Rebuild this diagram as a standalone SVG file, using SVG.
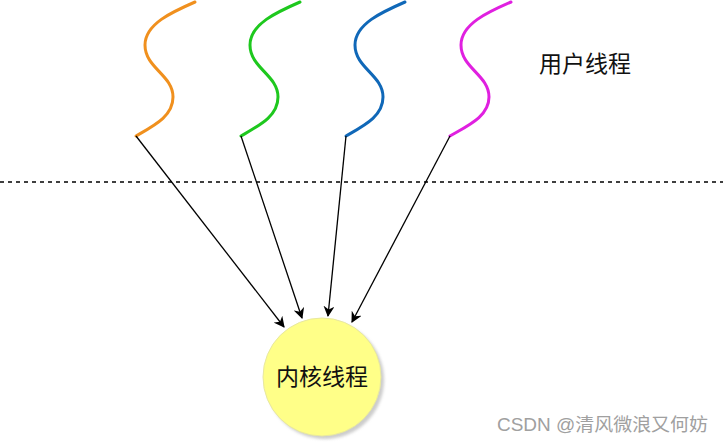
<svg xmlns="http://www.w3.org/2000/svg" width="723" height="443" viewBox="0 0 723 443">
  <defs>
    <marker id="arr" viewBox="0 0 10 10" refX="9" refY="5" markerWidth="11" markerHeight="11" markerUnits="userSpaceOnUse" orient="auto">
      <path d="M0,0 L10,5 L0,10 L3,5 Z" fill="#000"/>
    </marker>
    <filter id="sh" x="-20%" y="-20%" width="140%" height="140%">
      <feGaussianBlur stdDeviation="1.5"/>
    </filter>
  </defs>
  <style>
    .wave{fill:none;stroke-width:3;stroke-linecap:round}
    .conn{fill:none;stroke:#000;stroke-width:1.3}
    .lbl{font-family:"Noto Sans CJK SC","Liberation Sans",sans-serif;fill:#111}
  </style>
  <rect width="723" height="443" fill="#fff"/>
  <line x1="0" y1="182" x2="723" y2="182" stroke="#000" stroke-width="1.3" stroke-dasharray="4,4"/>

  <g id="thread1"><path class="wave" stroke="#f0901e" d="M195,2 C172,12 145,24 145,45 C145,68 173,75 173,97 C173,116 155,125 136,136"/></g>
  <g id="thread2"><path class="wave" stroke="#1ec81e" d="M300,2 C277,12 250,24 250,45 C250,68 278,75 278,97 C278,116 260,125 241,136"/></g>
  <g id="thread3"><path class="wave" stroke="#1068b8" d="M405,2 C382,12 355,24 355,45 C355,68 383,75 383,97 C383,116 365,125 346,136"/></g>
  <g id="thread4"><path class="wave" stroke="#e020e0" d="M511,2 C488,12 461,24 461,45 C461,68 489,75 489,97 C489,116 469,125 450,136"/></g>

  <g id="userlabel"><text class="lbl" x="585" y="72" font-size="23" text-anchor="middle">用户线程</text></g>

  <g id="connectors">
    <line class="conn" x1="136" y1="136" x2="284" y2="327" marker-end="url(#arr)"/>
    <line class="conn" x1="241" y1="136" x2="302" y2="318" marker-end="url(#arr)"/>
    <line class="conn" x1="346" y1="136" x2="328" y2="316" marker-end="url(#arr)"/>
    <line class="conn" x1="450" y1="136" x2="352" y2="322" marker-end="url(#arr)"/>
  </g>

  <g id="kernel">
    <circle cx="325" cy="380" r="59" fill="#aaa" opacity="0.6" filter="url(#sh)"/>
    <circle cx="322" cy="377" r="59" fill="#ffff88" stroke="#e8e8a0" stroke-width="1"/>
    <text class="lbl" x="322" y="385" font-size="23" text-anchor="middle">内核线程</text>
  </g>

  <text x="497" y="431" font-family="'Liberation Sans','Noto Sans CJK SC',sans-serif" font-size="18" fill="#a0a0a0" textLength="211" lengthAdjust="spacingAndGlyphs">CSDN @清风微浪又何妨</text>
</svg>
